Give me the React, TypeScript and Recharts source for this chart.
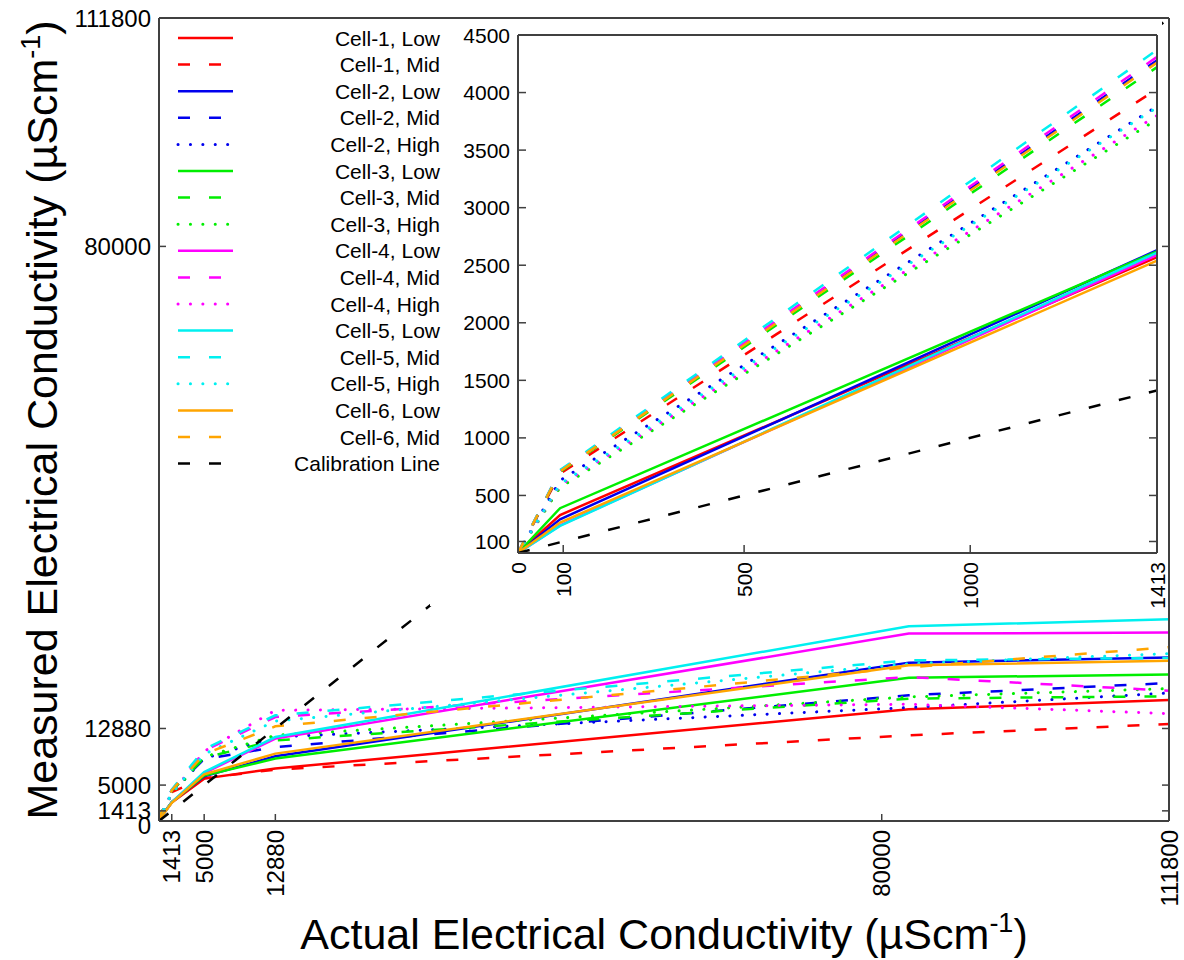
import React from "react";
import { LineChart, Line, XAxis, YAxis, Legend, Label } from "recharts";

// standard solutions along the x axis (µS/cm); 93 is the first low reading
const actualEC = [0, 93, 1413, 5000, 12880, 83000, 111800];

const cell1Low = [0, 330, 2570, 5900, 7300, 15550, 16850];
const cell1Mid = [0, 690, 4030, 5950, 7160, 11930, 13500];
const cell2Low = [0, 293, 2630, 6220, 9010, 22050, 22750];
const cell2Mid = [0, 710, 4280, 8600, 10300, 17500, 19210];
const cell2High = [0, 630, 3880, 8700, 11690, 15790, 17820];
const cell3Low = [0, 389, 2620, 6320, 8690, 19960, 20380];
const cell3Mid = [0, 705, 4220, 8800, 11230, 17040, 17360];
const cell3High = [0, 570, 3765, 8900, 11930, 17270, 18430];
const cell4Low = [0, 240, 2590, 6680, 11470, 26090, 26230];
const cell4Mid = [0, 715, 4310, 9800, 14480, 20050, 18150];
const cell4High = [0, 590, 3800, 9700, 15410, 16250, 14950];
const cell5Low = [0, 235, 2610, 6820, 11690, 27110, 28080];
const cell5Mid = [0, 720, 4370, 10000, 14710, 22370, 22700];
const cell5High = [0, 600, 3870, 9300, 13920, 21900, 23300];
const cell6Low = [0, 264, 2540, 6500, 9380, 21680, 22300];
const cell6Mid = [0, 710, 4260, 9300, 13180, 21400, 24200];
const calibrationLine = [0, 93, 1413, 5000, 12880, 83000, 111800];

const mainXTicks = [1413, 5000, 12880, 80000, 111800];
const mainYTicks = [0, 1413, 5000, 12880, 80000, 111800];
const zoomXTicks = [0, 100, 500, 1000, 1413];
const zoomYTicks = [100, 500, 1000, 1500, 2000, 2500, 3000, 3500, 4000, 4500];

const FONT = "'Liberation Sans', Arial, sans-serif";
const AXIS = "#404040";
const DASH = "12 19";
const DOT = "0.1 12.3";

const series = [
  { key: "c1l", name: "Cell-1, Low", color: "#ff0000", dash: "", values: cell1Low },
  { key: "c1m", name: "Cell-1, Mid", color: "#ff0000", dash: DASH, values: cell1Mid },
  { key: "c2l", name: "Cell-2, Low", color: "#0000ee", dash: "", values: cell2Low },
  { key: "c2m", name: "Cell-2, Mid", color: "#0000ee", dash: DASH, values: cell2Mid },
  { key: "c2h", name: "Cell-2, High", color: "#0000ee", dash: DOT, values: cell2High },
  { key: "c3l", name: "Cell-3, Low", color: "#00ee00", dash: "", values: cell3Low },
  { key: "c3m", name: "Cell-3, Mid", color: "#00ee00", dash: DASH, values: cell3Mid },
  { key: "c3h", name: "Cell-3, High", color: "#00ee00", dash: DOT, values: cell3High },
  { key: "c4l", name: "Cell-4, Low", color: "#ff00ff", dash: "", values: cell4Low },
  { key: "c4m", name: "Cell-4, Mid", color: "#ff00ff", dash: DASH, values: cell4Mid },
  { key: "c4h", name: "Cell-4, High", color: "#ff00ff", dash: DOT, values: cell4High },
  { key: "c5l", name: "Cell-5, Low", color: "#00f0f0", dash: "", values: cell5Low },
  { key: "c5m", name: "Cell-5, Mid", color: "#00f0f0", dash: DASH, values: cell5Mid },
  { key: "c5h", name: "Cell-5, High", color: "#00f0f0", dash: DOT, values: cell5High },
  { key: "c6l", name: "Cell-6, Low", color: "#ffa500", dash: "", values: cell6Low },
  { key: "c6m", name: "Cell-6, Mid", color: "#ffa500", dash: DASH, values: cell6Mid },
  { key: "cal", name: "Calibration Line", color: "#000000", dash: DASH, values: calibrationLine },
];

const rows = actualEC.map((x, i) => {
  const row: Record<string, number> = { x };
  series.forEach((s) => {
    row[s.key] = s.values[i];
  });
  return row;
});

const axisLine = { stroke: AXIS, strokeWidth: 2 };

// 0 and 1413 sit 10px apart on the main y axis; drop the 0 a little
const labelNudge: Record<number, number> = { 0: 4 };

// ticks point into the plot, labels sit outside
const BottomTick = (props: any) => {
  const { x, y, payload, len, size, showLabel } = props;
  const ty = y + 9;
  return (
    <g>
      <line x1={x} x2={x} y1={y} y2={y - len} stroke={AXIS} strokeWidth={1.5} />
      {showLabel && (
        <text
          x={x}
          y={ty}
          transform={`rotate(-90 ${x} ${ty})`}
          textAnchor="end"
          dominantBaseline="central"
          fontSize={size}
          fontFamily={FONT}
          fill="#000"
        >
          {payload.value}
        </text>
      )}
    </g>
  );
};

const TopTick = (props: any) => {
  const { x, y, len } = props;
  return <line x1={x} x2={x} y1={y} y2={y + len} stroke={AXIS} strokeWidth={1.5} />;
};

const LeftTick = (props: any) => {
  const { x, y, payload, len, size, nudge } = props;
  const dy = nudge ? labelNudge[payload.value] || 0 : 0;
  return (
    <g>
      <line x1={x} x2={x + len} y1={y} y2={y} stroke={AXIS} strokeWidth={1.5} />
      <text
        x={x - 8}
        y={y + dy}
        textAnchor="end"
        dominantBaseline="central"
        fontSize={size}
        fontFamily={FONT}
        fill="#000"
      >
        {payload.value}
      </text>
    </g>
  );
};

const RightTick = (props: any) => {
  const { x, y, len } = props;
  return <line x1={x} x2={x - len} y1={y} y2={y} stroke={AXIS} strokeWidth={1.5} />;
};

const XTitle = () => (
  <text x={664} y={949} textAnchor="middle" fontSize={43} fontFamily={FONT} fill="#000">
    Actual Electrical Conductivity (µScm
    <tspan fontSize={27} dy={-17}>-1</tspan>
    <tspan fontSize={43} dy={17}>)</tspan>
  </text>
);

const YTitle = () => {
  const cx = 57;
  const cy = 420;
  return (
    <text
      x={cx}
      y={cy}
      transform={`rotate(-90 ${cx} ${cy})`}
      textAnchor="middle"
      fontSize={43}
      fontFamily={FONT}
      fill="#000"
    >
      Measured Electrical Conductivity (µScm
      <tspan fontSize={27} dy={-17}>-1</tspan>
      <tspan fontSize={43} dy={17}>)</tspan>
    </text>
  );
};

const LegendBox = () => (
  <svg width={280} height={460}>
    {series.map((s, i) => {
      const y = 16 + i * 26.6;
      return (
        <g key={s.key}>
          <line
            x1={8}
            x2={63}
            y1={y}
            y2={y}
            stroke={s.color}
            strokeWidth={s.dash === DOT ? 3 : 2.5}
            strokeDasharray={s.dash || undefined}
            strokeLinecap={s.dash === DOT ? "round" : "butt"}
          />
          <text x={270} y={y} textAnchor="end" dominantBaseline="central" fontSize={21} fontFamily={FONT} fill="#000">
            {s.name}
          </text>
        </g>
      );
    })}
  </svg>
);

const renderLines = () =>
  series.map((s) => (
    <Line
      key={s.key}
      dataKey={s.key}
      name={s.name}
      type="linear"
      stroke={s.color}
      strokeWidth={s.dash === DOT ? 3 : 2.5}
      strokeDasharray={s.dash || undefined}
      strokeLinecap={s.dash === DOT ? "round" : "butt"}
      dot={false}
      activeDot={false}
      isAnimationActive={false}
    />
  ));

// four axes per chart: the top and right ones only close the frame and mirror the ticks
const frameAxes = (xDomain: number[], yDomain: number[], xTicks: number[], yTicks: number[], len: number, size: number, titles: boolean) => [
  <XAxis
    key="xb"
    dataKey="x"
    type="number"
    domain={xDomain}
    allowDataOverflow
    ticks={xTicks}
    interval={0}
    height={1}
    tickSize={0}
    tickMargin={0}
    axisLine={axisLine}
    tickLine={false}
    tick={(p: any) => <BottomTick {...p} len={len} size={size} showLabel />}
  >
    {titles && <Label content={() => <XTitle />} />}
  </XAxis>,
  <XAxis
    key="xt"
    xAxisId="top"
    orientation="top"
    type="number"
    domain={xDomain}
    allowDataOverflow
    ticks={xTicks}
    interval={0}
    height={1}
    tickSize={0}
    tickMargin={0}
    axisLine={axisLine}
    tickLine={false}
    tick={(p: any) => <TopTick {...p} len={len} />}
  />,
  <YAxis
    key="yl"
    type="number"
    domain={yDomain}
    allowDataOverflow
    ticks={yTicks}
    interval={0}
    width={1}
    tickSize={0}
    tickMargin={0}
    axisLine={axisLine}
    tickLine={false}
    tick={(p: any) => <LeftTick {...p} len={len} size={size} nudge={titles} />}
  >
    {titles && <Label content={() => <YTitle />} />}
  </YAxis>,
  <YAxis
    key="yr"
    yAxisId="right"
    orientation="right"
    type="number"
    domain={yDomain}
    allowDataOverflow
    ticks={yTicks}
    interval={0}
    width={1}
    tickSize={0}
    tickMargin={0}
    axisLine={axisLine}
    tickLine={false}
    tick={(p: any) => <RightTick {...p} len={len} />}
  />,
];

const MainChart = () => (
  <LineChart width={1184} height={960} data={rows} margin={{ top: 17, right: 14, bottom: 138, left: 158 }}>
    {frameAxes([0, 111800], [0, 111800], mainXTicks, mainYTicks, 7, 24, true)}
    {renderLines()}
  </LineChart>
);

// close-up of the 0–1413 range, drawn over the upper right of the main plot
const ZoomChart = () => (
  <LineChart width={1184} height={960} data={rows} margin={{ top: 34, right: 26, bottom: 406, left: 517 }}>
    {frameAxes([0, 1413], [0, 4500], zoomXTicks, zoomYTicks, 8, 21, false)}
    <Legend
      layout="vertical"
      align="center"
      verticalAlign="middle"
      wrapperStyle={{ left: 170, top: 22, width: 280, height: 460 }}
      content={() => <LegendBox />}
    />
    {renderLines()}
  </LineChart>
);

export default function App() {
  return (
    <div style={{ position: "absolute", left: 0, top: 0, width: 1184, height: 960, background: "#fff" }}>
      <div style={{ position: "absolute", left: 0, top: 0 }}>
        <MainChart />
      </div>
      <div style={{ position: "absolute", left: 430, top: 20, width: 732, height: 586, background: "#fff" }} />
      <div style={{ position: "absolute", left: 0, top: 0 }}>
        <ZoomChart />
      </div>
    </div>
  );
}
